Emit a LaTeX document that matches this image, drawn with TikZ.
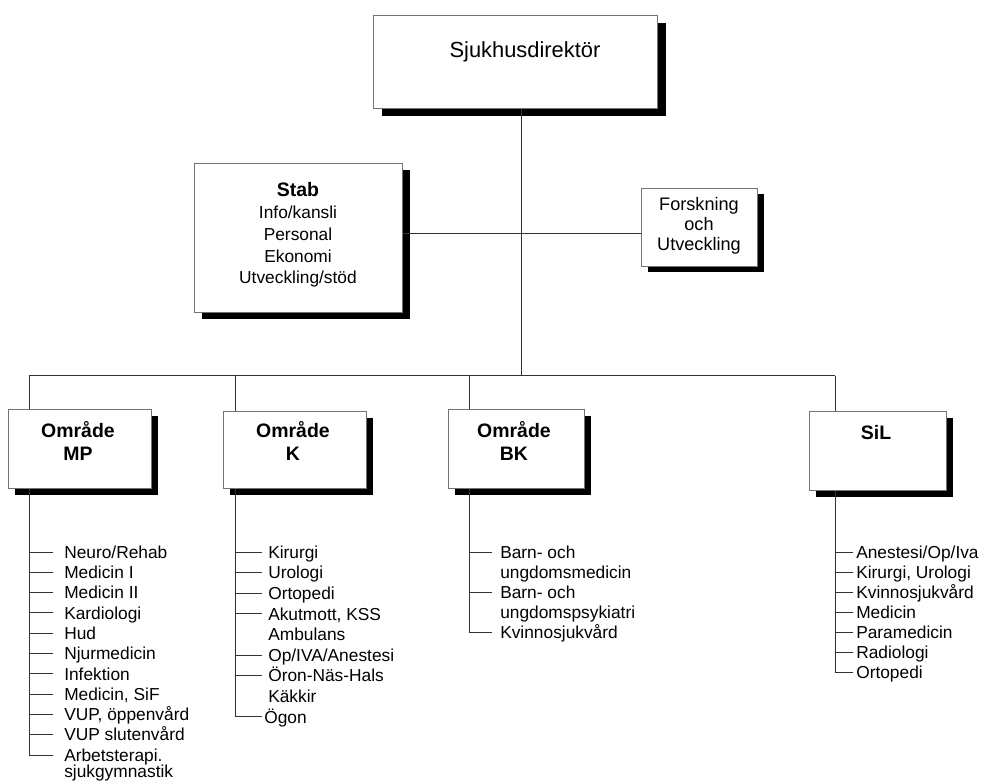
\documentclass[tikz,border=0pt]{standalone}
\usepackage{fontspec}
\setmainfont{Liberation Sans}
\usetikzlibrary{shadows}
\newcommand\fsTitle{\fontsize{16.4pt}{19pt}\selectfont}
\newcommand\fsHead{\fontsize{14.6pt}{17pt}\selectfont\bfseries}
\newcommand\fsList{\fontsize{13pt}{15pt}\selectfont}
\newcommand\fsFoU{\fontsize{13.6pt}{16pt}\selectfont}
\begin{document}
\begin{tikzpicture}[x=0.75pt,y=-0.75pt,
  box/.style={draw=black!55, line width=0.75pt, fill=white, inner sep=0pt,
    anchor=north west,
    drop shadow={shadow xshift=#1, shadow yshift=-#1, opacity=1, fill=black}},
  box/.default=4.5pt,
  conn/.style={draw=black!80, line width=0.75pt},
  txt/.style={anchor=base, inner sep=0pt},
  item/.style={anchor=west, inner sep=0pt, text height=9.3pt, text depth=0pt,
    font=\fsList}]
\useasboundingbox (0,0) rectangle (1008,781);

% ---- boxes ----
\node[box=6pt, minimum width=284*0.75pt, minimum height=93*0.75pt] (top) at (373,15) {};
\node[box=5.25pt, minimum width=208*0.75pt, minimum height=149*0.75pt] (stab) at (194,163) {};
\node[box, minimum width=116*0.75pt, minimum height=78*0.75pt] (fou) at (641,188) {};
\node[box, minimum width=143*0.75pt, minimum height=79*0.75pt] (mp) at (8,409) {};
\node[box, minimum width=143*0.75pt, minimum height=77*0.75pt] (k) at (223,411) {};
\node[box, minimum width=136*0.75pt, minimum height=79*0.75pt] (bk) at (448,409) {};
\node[box, minimum width=137*0.75pt, minimum height=79*0.75pt] (sil) at (809,411) {};

% ---- box texts ----
\node[txt, font=\fsTitle] (ttop) at (525,58) {Sjukhusdirektör};

\node[txt, font=\fsHead] (tstab) at (298,197) {Stab};
\node[txt, font=\fsList] (tstab1) at (298,219) {Info/kansli};
\node[txt, font=\fsList] (tstab2) at (298,241) {Personal};
\node[txt, font=\fsList] (tstab3) at (298,263) {Ekonomi};
\node[txt, font=\fsList] (tstab4) at (298,284) {Utveckling/stöd};

\node[txt, font=\fsFoU] (tfou1) at (699,211) {Forskning};
\node[txt, font=\fsFoU] (tfou2) at (699,231) {och};
\node[txt, font=\fsFoU] (tfou3) at (699,251) {Utveckling};

\node[txt, font=\fsHead] (tmp1) at (78,437) {Område};
\node[txt, font=\fsHead] (tmp2) at (78,460) {MP};
\node[txt, font=\fsHead] (tk1) at (293,437) {Område};
\node[txt, font=\fsHead] (tk2) at (293,460) {K};
\node[txt, font=\fsHead] (tbk1) at (514,437) {Område};
\node[txt, font=\fsHead] (tbk2) at (514,460) {BK};
\node[txt, font=\fsHead] (tsil) at (876,440) {SiL};

% ---- spine coordinates ----
\coordinate (bus) at (521,376);
\coordinate (hz) at (521,234);
\coordinate (mpx) at (29,0);
\coordinate (kx) at (235,0);
\coordinate (bkx) at (469,0);
\coordinate (silx) at (835,0);

% ---- upper connectors ----
\draw[conn] (top.south -| bus) -- (bus);
\draw[conn] (stab.east |- hz) -- (fou.west |- hz);
\draw[conn] (mpx |- bus) -- (silx |- bus);
\foreach \b/\s in {mp/mpx, k/kx, bk/bkx, sil/silx}
  \draw[conn] (\s |- bus) -- (\b.north -| \s);

% ---- Område MP ----
\foreach \t [count=\i from 0] in {Neuro/Rehab, Medicin I, Medicin II, Kardiologi, Hud,
    Njurmedicin, Infektion, {Medicin, SiF}, {VUP, öppenvård}, VUP slutenvård,
    Arbetsterapi.}
  \node[item] (mp\i) at (64,552+20.3*\i) {\t};
\node[item] (mp11) at (64,771) {sjukgymnastik};
\draw[conn] (mp.south -| mpx) -- (mpx |- mp10.west);
\foreach \i in {0,...,10}
  \draw[conn] (mpx |- mp\i.west) -- ([xshift=-8.25pt]mp\i.west);

% ---- Område K ----
\foreach \t [count=\i from 0] in {Kirurgi, Urologi, Ortopedi, {Akutmott, KSS}, Ambulans,
    Op/IVA/Anestesi, Öron-Näs-Hals, Käkkir}
  \node[item] (k\i) at (268,552+20.6*\i) {\t};
\node[item] (k8) at (264,552+20.6*8) {Ögon};
\draw[conn] (k.south -| kx) -- (kx |- k8.west);
\foreach \i in {0,1,2,3,5,6}
  \draw[conn] (kx |- k\i.west) -- ([xshift=-4.5pt]k\i.west);
\draw[conn] (kx |- k8.west) -- ([xshift=-1.5pt]k8.west);

% ---- Område BK ----
\foreach \t [count=\i from 0] in {Barn- och, ungdomsmedicin, Barn- och,
    ungdomspsykiatri, Kvinnosjukvård}
  \node[item] (bk\i) at (500,552+20*\i) {\t};
\draw[conn] (bk.south -| bkx) -- (bkx |- bk4.west);
\foreach \i in {0,2,4}
  \draw[conn] (bkx |- bk\i.west) -- ([xshift=-6pt]bk\i.west);

% ---- SiL ----
\foreach \t [count=\i from 0] in {Anestesi/Op/Iva, {Kirurgi, Urologi}, Kvinnosjukvård,
    Medicin, Paramedicin, Radiologi, Ortopedi}
  \node[item] (sil\i) at (856,552+20*\i) {\t};
\draw[conn] (sil.south -| silx) -- (silx |- sil6.west);
\foreach \i in {0,...,6}
  \draw[conn] (silx |- sil\i.west) -- ([xshift=-2.25pt]sil\i.west);
\end{tikzpicture}
\end{document}
